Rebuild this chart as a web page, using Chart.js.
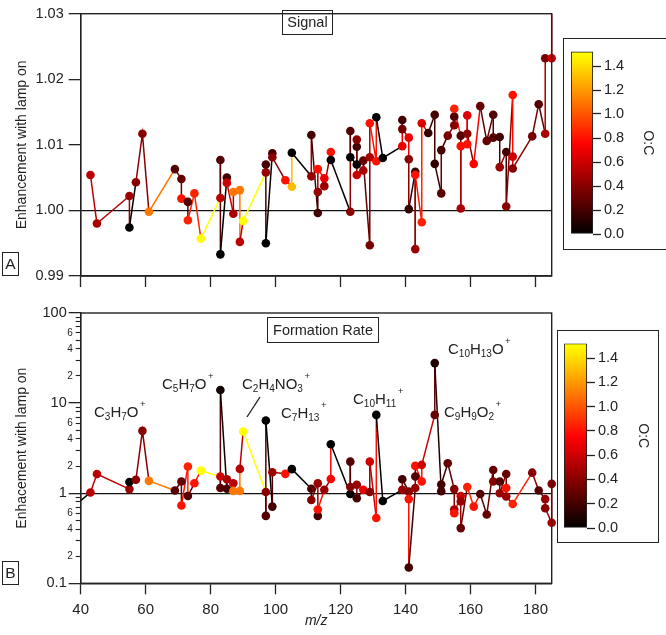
<!DOCTYPE html>
<html><head><meta charset="utf-8">
<script src="https://cdn.jsdelivr.net/npm/chart.js@4.4.1/dist/chart.umd.min.js"></script>
<style>
html,body{margin:0;padding:0;background:#fff;}
body{width:666px;height:635px;overflow:hidden;position:relative;font-family:"Liberation Sans",Arial,sans-serif;color:#222;}
.abs{position:absolute;}
.frame{position:absolute;border:1.4px solid #222;box-sizing:border-box;}
.boxlbl{position:absolute;border:1.4px solid #222;box-sizing:border-box;display:flex;align-items:center;justify-content:center;font-size:14.5px;line-height:1;white-space:nowrap;}
.f{position:absolute;font-size:15px;line-height:15px;white-space:nowrap;}
.f sub{font-size:10px;position:relative;top:2.5px;vertical-align:baseline;line-height:0;}
.f sup{font-size:9.5px;position:relative;top:-10px;vertical-align:baseline;line-height:0;margin-left:1.5px;}
</style></head><body>
<div class="abs" style="left:0;top:0;width:560px;height:290px"><canvas id="cA"></canvas></div>
<div class="abs" style="left:0;top:290px;width:560px;height:345px"><canvas id="cB"></canvas></div>
<div class="abs" style="left:0;top:290px;width:560px;height:345px;pointer-events:none"><canvas id="cBminor"></canvas></div>
<div class="abs" style="left:563px;top:37px;width:103px;height:212px"><canvas id="cbA"></canvas></div>
<div class="abs" style="left:557px;top:330px;width:101px;height:212px"><canvas id="cbB"></canvas></div>
<div class="frame" style="left:563px;top:38px;width:104px;height:212px"></div>
<div class="frame" style="left:557px;top:330px;width:102px;height:213px"></div>

<div class="boxlbl" style="left:282px;top:10px;width:51px;height:25px">Signal</div>
<div class="boxlbl" style="left:267px;top:317px;width:112px;height:26px">Formation Rate</div>
<div class="boxlbl" style="left:2px;top:252px;width:17px;height:24px;font-size:15.5px">A</div>
<div class="boxlbl" style="left:2px;top:561px;width:17px;height:24px;font-size:15.5px">B</div>

<div class="f" style="left:94px;top:404px">C<sub>3</sub>H<sub>7</sub>O<sup>+</sup></div>
<div class="f" style="left:162px;top:376px">C<sub>5</sub>H<sub>7</sub>O<sup>+</sup></div>
<div class="f" style="left:242px;top:376px">C<sub>2</sub>H<sub>4</sub>NO<sub>3</sub><sup>+</sup></div>
<div class="f" style="left:281px;top:405px">C<sub>7</sub>H<sub>13</sub><sup>+</sup></div>
<div class="f" style="left:353px;top:391px">C<sub>10</sub>H<sub>11</sub><sup>+</sup></div>
<div class="f" style="left:448px;top:341px">C<sub>10</sub>H<sub>13</sub>O<sup>+</sup></div>
<div class="f" style="left:444px;top:404px">C<sub>9</sub>H<sub>9</sub>O<sub>2</sub><sup>+</sup></div>
<svg class="abs" style="left:0;top:0;pointer-events:none" width="666" height="635"><line x1="260" y1="397" x2="247" y2="417" stroke="#222" stroke-width="1.3"/></svg>

<script>
// ---------- DATA ----------
// Panel A: Signal enhancement (m/z, value, O:C)
const mzA  = [43,45,55,55,57,59,61,69,71,71,73,73,75,77,83,83,83,85,85,87,87,89,89,90,97,97,97,99,99,103,105,105,111,111,113,113,113,115,115,117,117,123,123,123,125,125,125,125,127,127,129,129,129,131,131,133,139,139,139,141,141,141,143,143,143,145,145,147,149,149,151,151,153,155,155,155,157,157,157,159,159,159,161,163,165,167,167,169,169,171,171,173,173,173,179,181,183,183,185,185];
const sigA = [1.0054,0.9980,1.0022,0.9974,1.0043,1.0117,0.9998,1.0063,1.0048,1.0018,1.0013,0.9985,1.0026,0.9957,1.0019,1.0077,0.9933,1.0050,1.0042,0.9995,1.0028,1.0031,0.9952,0.9984,1.0058,1.0070,0.9950,1.0087,1.0081,1.0046,1.0036,1.0088,1.0052,1.0115,0.9996,1.0028,1.0063,1.0049,1.0037,1.0089,1.0077,0.9998,1.0121,1.0081,1.0070,1.0097,1.0108,1.0054,1.0061,1.0076,0.9947,1.0081,1.0133,1.0075,1.0142,1.0080,1.0098,1.0138,1.0124,1.0111,1.0078,1.0002,1.0059,0.9941,1.0054,0.9982,1.0133,1.0118,1.0146,1.0071,1.0026,1.0092,1.0114,1.0130,1.0143,1.0155,1.0114,1.0003,1.0098,1.0101,1.0145,1.0117,1.0071,1.0159,1.0106,1.0146,1.0111,1.0112,1.0066,1.0089,1.0006,1.0176,1.0082,1.0064,1.0113,1.0162,1.0117,1.0232,1.0232,1.0400];
const ocA  = [0.55,0.5,0.45,0.0,0.4,0.4,1.1,0.25,0.3,0.8,0.25,0.85,0.85,1.5,0.55,0.25,0.0,0.2,0.6,0.5,1.1,1.1,0.55,1.5,0.45,0.2,0.0,0.2,0.4,0.8,1.3,0.0,0.45,0.2,0.2,0.45,0.8,0.7,0.45,0.8,0.0,0.4,0.25,0.0,0.0,0.2,0.4,0.6,0.5,0.3,0.35,0.5,0.8,0.8,0.0,0.0,0.7,0.2,0.35,0.7,0.4,0.15,0.2,0.45,0.8,0.85,0.65,0.15,0.2,0.15,0.25,0.2,0.35,0.4,0.25,0.85,0.25,0.5,0.8,0.8,0.65,0.4,0.75,0.3,0.3,0.25,0.25,0.2,0.45,0.2,0.4,0.8,0.6,0.4,0.35,0.25,0.5,0.35,0.6,0.8];

// Panel B: Formation rate enhancement (m/z, value, O:C)
const mzB  = [37,43,45,55,55,57,59,61,69,71,71,73,73,75,77,83,83,83,85,85,87,87,89,89,90,97,97,97,99,99,103,105,111,111,113,113,113,115,117,117,123,123,123,125,125,127,129,129,131,131,133,139,139,141,141,141,143,143,143,145,145,149,149,151,151,153,155,155,155,157,157,157,159,161,163,165,167,167,169,169,171,171,171,173,179,181,183,183,185,185];
const rateB = [0.67,1.02,1.63,1.11,1.33,1.41,4.92,1.37,1.07,1.35,0.73,1.98,0.93,1.29,1.78,1.53,1.14,14.0,1.12,1.43,1.29,1.06,1.06,1.86,4.84,1.03,0.56,6.4,0.71,1.71,1.64,1.85,1.12,0.84,1.29,0.56,0.66,1.09,1.44,3.5,0.98,2.24,1.17,1.24,0.88,1.09,1.03,2.24,0.53,7.4,0.82,1.09,1.43,1.04,0.86,0.15,1.14,1.53,2.01,1.35,2.06,7.4,27.8,1.05,1.25,2.15,1.11,0.66,0.60,0.93,0.81,0.41,1.17,0.71,0.98,0.58,1.81,1.35,1.35,1.00,1.63,1.14,0.92,0.76,1.69,1.07,0.86,0.68,0.47,1.27];
const ocB  = [0.0,0.55,0.55,0.45,0.0,0.4,0.4,1.1,0.25,0.3,0.8,0.85,0.25,0.8,1.5,0.6,0.25,0.05,0.2,0.5,0.55,1.1,1.1,0.55,1.5,0.4,0.25,0.0,0.2,0.45,0.8,0.0,0.25,0.4,0.45,0.2,0.8,0.45,0.75,0.0,0.0,0.25,0.4,0.45,0.2,0.7,0.4,0.6,0.8,0.0,0.0,0.45,0.2,0.4,0.8,0.2,0.45,0.25,0.8,0.8,0.6,0.3,0.1,0.2,0.2,0.3,0.4,0.5,0.8,0.6,0.45,0.3,0.85,0.8,0.25,0.3,0.3,0.4,0.25,0.45,0.3,0.8,0.45,0.85,0.4,0.25,0.45,0.4,0.5,0.4];

// Tick labels
const xTicks = [40,60,80,100,120,140,160,180];
const yTicksA = [0.99,1.00,1.01,1.02,1.03];
const yMajorB = [0.1,1,10,100];
const yMinorB = [0.2,0.3,0.4,0.5,0.6,0.7,0.8,0.9,2,3,4,5,6,7,8,9,20,30,40,50,60,70,80,90];
const yMinorLabelled = [2,4,6];
const cbTicks = [0.0,0.2,0.4,0.6,0.8,1.0,1.2,1.4];
const ocRange = [0, 1.52];

// ---------- helpers ----------
function ocColor(v){
  const r = Math.max(0, Math.min(1, v/0.75));
  const g = Math.max(0, Math.min(1, (v-0.75)/0.75));
  return 'rgb(' + Math.round(r*255) + ',' + Math.round(g*255) + ',0)';
}
Chart.defaults.font.family = '"Liberation Sans", Arial, sans-serif';
Chart.defaults.color = '#222';
const frame = {id:'frame', afterDatasetsDraw(chart){
  const {ctx, chartArea:a} = chart; ctx.save(); ctx.strokeStyle='#222'; ctx.lineWidth=1.4;
  ctx.strokeRect(a.left, a.top, a.right-a.left, a.bottom-a.top); ctx.restore();
}};
function lineDataset(mz, val, oc){
  const cols = oc.map(ocColor);
  return {data: mz.map((x,i)=>({x:x, y:val[i]})), borderWidth:1.5, pointRadius:4.3, pointHoverRadius:4.3,
    pointBackgroundColor: cols, pointBorderWidth:0, borderColor: cols[0], tension:0,
    segment:{borderColor: c => cols[c.p0DataIndex]}, clip:{left:0, top:0, right:6, bottom:0}};
}
const oneLine = c => (c.tick && Math.abs(c.tick.value-1) < 1e-9) ? '#111' : 'rgba(0,0,0,0)';
const setTicks = arr => s => { s.ticks = arr.map(v => ({value:v})); };
const base = {responsive:true, maintainAspectRatio:false, animation:false, events:[],
  plugins:{legend:{display:false}, tooltip:{enabled:false}}};

// ---------- Panel A ----------
new Chart(document.getElementById('cA'), {
  type:'line',
  data:{datasets:[lineDataset(mzA, sigA, ocA)]},
  options:Object.assign({}, base, {
    layout:{padding:{top:5, right:8.3, left:0, bottom:0}},
    scales:{
      x:{type:'linear', min:40, max:185, afterBuildTicks:setTicks(xTicks), afterFit:s=>{s.height=14;},
         ticks:{display:false}, grid:{drawOnChartArea:false, tickLength:11, tickColor:'#222', tickWidth:1.3},
         border:{color:'#222', width:1.4}},
      y:{type:'linear', min:0.99, max:1.03, afterBuildTicks:setTicks(yTicksA), afterFit:s=>{s.width=80.7;},
         ticks:{callback:v=>v.toFixed(2), font:{size:14.5}, padding:5, autoSkip:false},
         grid:{color:oneLine, lineWidth:1.3, tickColor:'#222', tickLength:12, tickWidth:1.3},
         border:{color:'#222', width:1.4},
         title:{display:true, text:'Enhancement with lamp on', font:{size:14}, padding:{top:14, bottom:0}}}
    }
  }),
  plugins:[frame]
});

// ---------- Panel B ----------
const xB = {type:'linear', min:40, max:185, afterBuildTicks:setTicks(xTicks), afterFit:s=>{s.height=51.7;},
  ticks:{font:{size:15}, padding:7, autoSkip:false, maxRotation:0},
  grid:{drawOnChartArea:false, tickLength:11, tickColor:'#222', tickWidth:1.3},
  border:{color:'#222', width:1.4},
  title:{display:true, text:'m/z', font:{size:14, style:'italic'}, padding:{top:0, bottom:5}}};
new Chart(document.getElementById('cB'), {
  type:'line',
  data:{datasets:[lineDataset(mzB, rateB, ocB)]},
  options:Object.assign({}, base, {
    layout:{padding:{top:23, right:8.3, left:0, bottom:0}},
    scales:{
      x:xB,
      y:{type:'logarithmic', min:0.1, max:100, afterBuildTicks:setTicks(yMajorB), afterFit:s=>{s.width=80.7;},
         ticks:{callback:v=>(v<1 ? '0.1' : String(v)), font:{size:14.5}, padding:2, autoSkip:false},
         grid:{color:oneLine, lineWidth:1.3, tickColor:'#222', tickLength:12, tickWidth:1.3},
         border:{color:'#222', width:1.4},
         title:{display:true, text:'Enhacement with lamp on', font:{size:14}, padding:{top:14, bottom:0}}}
    }
  }),
  plugins:[frame]
});
// minor log ticks of panel B: a second, transparent chart with the same plot area
new Chart(document.getElementById('cBminor'), {
  type:'line',
  data:{datasets:[{data:[]}]},
  options:Object.assign({}, base, {
    layout:{padding:{top:23, right:8.3, left:0, bottom:0}},
    scales:{
      x:{type:'linear', min:40, max:185, afterFit:s=>{s.height=51.7;}, ticks:{display:false},
         grid:{display:false}, border:{display:false}},
      y:{type:'logarithmic', min:0.1, max:100, afterBuildTicks:setTicks(yMinorB), afterFit:s=>{s.width=80.7;},
         ticks:{callback:v=>{const m=Math.round(v/Math.pow(10,Math.floor(Math.log10(v)+1e-9))); return yMinorLabelled.includes(m)?String(m):'';},
                font:{size:10}, padding:3, autoSkip:false},
         grid:{drawOnChartArea:false, tickLength:5, tickColor:'#222', tickWidth:1.1},
         border:{display:false}}
    }
  })
});

// ---------- Colour bars ----------
function colorbar(id, pad, yWidth, titlePad){
  return new Chart(document.getElementById(id), {
    type:'bar',
    data:{labels:[''], datasets:[{data:[[ocRange[0], ocRange[1]]],
      backgroundColor:(c)=>{
        const ch=c.chart; if(!ch.chartArea) return '#000';
        const y=ch.scales.y; const g=ch.ctx.createLinearGradient(0, y.getPixelForValue(ocRange[0]), 0, y.getPixelForValue(ocRange[1]));
        for(let i=0;i<=20;i++){ g.addColorStop(i/20, ocColor(ocRange[0]+(ocRange[1]-ocRange[0])*i/20)); }
        return g;
      },
      borderColor:'#222', borderWidth:1.2, borderSkipped:false, barPercentage:1, categoryPercentage:1}]},
    options:Object.assign({}, base, {
      layout:{padding:pad},
      scales:{
        x:{display:false},
        y:{position:'right', min:ocRange[0], max:ocRange[1], afterBuildTicks:setTicks(cbTicks), afterFit:s=>{s.width=yWidth;},
           ticks:{callback:v=>v.toFixed(1), font:{size:14.5}, padding:3, autoSkip:false},
           grid:{drawOnChartArea:false, tickLength:8, tickColor:'#222', tickWidth:1.3},
           border:{display:false},
           title:{display:true, text:'O:C', font:{size:14}, padding:{top:titlePad, bottom:0}}}
      }
    })
  });
}
colorbar('cbA', {left:8, top:14.6, bottom:15, right:0}, 73, 9.6);
colorbar('cbB', {left:7, top:13.5, bottom:14, right:0}, 71, 6.6);
</script>
</body></html>
